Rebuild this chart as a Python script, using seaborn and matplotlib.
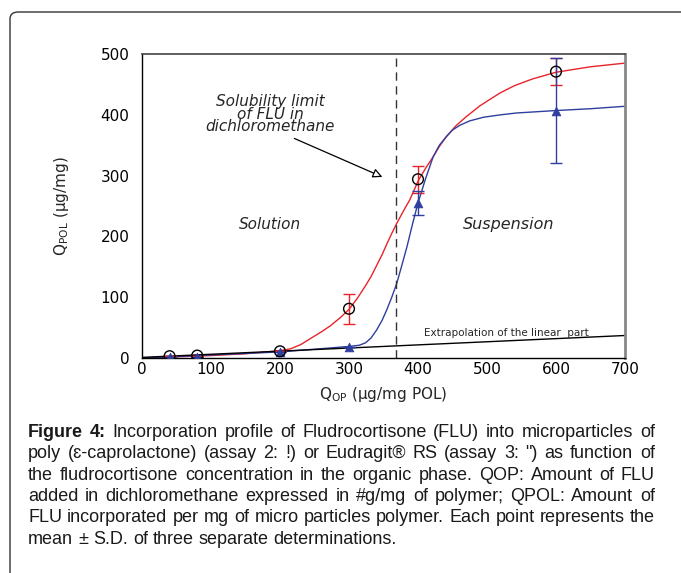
import matplotlib
matplotlib.use("Agg")
import matplotlib.pyplot as plt
import seaborn as sns
from matplotlib.patches import FancyBboxPatch

# measured points (mean +/- SD)
q_op = [40, 80, 200, 300, 400, 600]
pcl_mean = [3, 4, 11, 81, 294, 471]
pcl_sd = [0, 0, 0, 25, 22, 22]
rs_mean = [2, 2, 10, 18, 255, 407]
rs_sd = [0, 0, 0, 0, 20, 86]

# fitted curves
pcl_fit_x = [0, 50, 100, 150, 200, 215, 230, 247, 260, 273, 287, 300, 312, 324, 332, 340, 348, 355,
             362, 369, 378, 388, 401, 411, 422, 431, 441, 455, 470, 490, 519, 540, 566, 600, 650, 700]
pcl_fit_y = [0, 2, 4, 7, 12, 15, 22, 34, 43, 53, 66, 80, 98, 119, 134, 152, 170, 188,
             205, 221, 240, 260, 293, 312, 331, 348, 364, 382, 397, 415, 436, 448, 459, 470, 479, 485]
rs_fit_x = [0, 100, 200, 300, 315, 324, 332, 340, 348, 355, 362, 369, 376, 384, 392, 400, 411, 422,
            431, 441, 450, 461, 475, 495, 520, 543, 600, 650, 700]
rs_fit_y = [0, 5, 10, 19, 21, 25, 33, 46, 62, 80, 100, 122, 150, 183, 220, 255, 295, 331,
            350, 364, 375, 383, 390, 396, 400, 403, 407, 410, 414]

lin_x = [0, 700]
lin_y = [1, 37]

sol_limit = 368

sns.set_style("white")
plt.rcParams['font.family'] = ['DejaVu Sans']
plt.rcParams['mathtext.fontset'] = 'custom'
plt.rcParams['mathtext.rm'] = 'DejaVu Sans'

fig = plt.figure(figsize=(6.81, 5.73), dpi=100)
ax = fig.add_axes([142 / 681, 1 - 358 / 573, (625 - 142) / 681, (358 - 54) / 573])

red = "#e8232b"
blue = "#2f3f9e"

sns.lineplot(x=pcl_fit_x, y=pcl_fit_y, ax=ax, color=red, linewidth=1.0)
sns.lineplot(x=rs_fit_x, y=rs_fit_y, ax=ax, color=blue, linewidth=1.0)
sns.lineplot(x=lin_x, y=lin_y, ax=ax, color="black", linewidth=1.0)

ax.errorbar(q_op, pcl_mean, yerr=pcl_sd, fmt="none", ecolor=red, elinewidth=1, capsize=4)
ax.errorbar(q_op, rs_mean, yerr=rs_sd, fmt="none", ecolor=blue, elinewidth=1, capsize=4)
sns.scatterplot(x=q_op, y=rs_mean, ax=ax, marker="^", s=40, color=blue, edgecolor=blue, zorder=5)
sns.scatterplot(x=q_op, y=pcl_mean, ax=ax, marker="o", s=60, facecolor="none", edgecolor="black",
                linewidth=1.0, zorder=6)

ax.axvline(sol_limit, color="#333333", linestyle=(0, (6, 4)), linewidth=1.0)

ax.set_xlim(0, 700)
ax.set_ylim(0, 500)
ax.set_xticks(range(0, 701, 100))
ax.set_yticks(range(0, 501, 100))
ax.tick_params(axis="both", direction="out", length=7, width=1, labelsize=11, pad=2, colors="black")
ax.tick_params(axis="x", length=0, pad=3)

for s in ["left", "bottom"]:
    ax.spines[s].set_color("black")
    ax.spines[s].set_linewidth(1.0)
ax.spines["top"].set_color("#444444")
ax.spines["top"].set_linewidth(1.2)
ax.spines["right"].set_color("#888888")
ax.spines["right"].set_linewidth(2.0)

ax.set_xlabel(r"Q$_{\rm OP}$ (µg/mg POL)", fontsize=11, labelpad=6)
ax.set_ylabel(r"Q$_{\rm POL}$ (µg/mg)", fontsize=11, labelpad=21)

ax.text(185, 219, "Solution", fontsize=11, style="italic", ha="center", va="center")
ax.text(532, 220, "Suspension", fontsize=11.5, style="italic", ha="center", va="center")
ax.text(186, 401, "Solubility limit\nof FLU in\ndichloromethane", fontsize=11, style="italic",
        ha="center", va="center", linespacing=0.8)
ax.annotate("", xy=(352, 296), xytext=(217, 363),
            arrowprops=dict(arrowstyle="-|>", color="black", lw=0.9, fc="white", mutation_scale=14))
ax.text(528, 41, "Extrapolation of the linear  part", fontsize=7.5, ha="center", va="center")

# frame around figure
frame = FancyBboxPatch((10 / 681, -0.2), 1.2, 1 - 12 / 573 + 0.2, transform=fig.transFigure,
                       boxstyle="round,pad=0,rounding_size=0.012", fill=False, edgecolor="#333333",
                       linewidth=1.0)
fig.patches.append(frame)

# caption, justified lines
cap_font = ['Liberation Sans', 'DejaVu Sans']
cap_size = 13
cap_color = "#1a1a1a"
lines = [
    "Incorporation profile of Fludrocortisone (FLU) into microparticles of",
    "poly (ɛ-caprolactone) (assay 2: !) or Eudragit® RS (assay 3: \") as function of",
    "the fludrocortisone concentration in the organic phase. QOP: Amount of FLU",
    "added in dichloromethane expressed in #g/mg of polymer; QPOL: Amount of",
    "FLU incorporated per mg of micro particles polymer. Each point represents the",
    "mean ± S.D. of three separate determinations.",
]
left_px, right_px = 28, 655
base_px = [437, 458.5, 480, 501, 522.5, 544]
renderer = fig.canvas.get_renderer()


def put_line(words, x_start, y_px, justify, bold_first=False):
    arts = []
    for i, w in enumerate(words):
        wt = "bold" if (bold_first and i < 2) else "normal"
        arts.append(fig.text(0, 1 - y_px / 573, w, fontsize=cap_size, family=cap_font, weight=wt,
                             va="baseline", ha="left", color=cap_color))
    widths = [a.get_window_extent(renderer).width for a in arts]
    space = fig.text(0, 0, "a a", fontsize=cap_size, family=cap_font)
    sp = space.get_window_extent(renderer).width
    space.remove()
    space = fig.text(0, 0, "aa", fontsize=cap_size, family=cap_font)
    sp -= space.get_window_extent(renderer).width
    space.remove()
    if justify and len(words) > 1:
        sp = (right_px - x_start - sum(widths)) / (len(words) - 1)
    x = x_start
    for a, w in zip(arts, widths):
        a.set_x(x / 681)
        x += w + sp


put_line(["Figure", "4:"] + lines[0].split(" "), left_px, base_px[0], True, bold_first=True)
for k in range(1, 5):
    put_line(lines[k].split(" "), left_px, base_px[k], True)
put_line(lines[5].split(" "), left_px, base_px[5], False)

fig.savefig("out.png", dpi=100)
